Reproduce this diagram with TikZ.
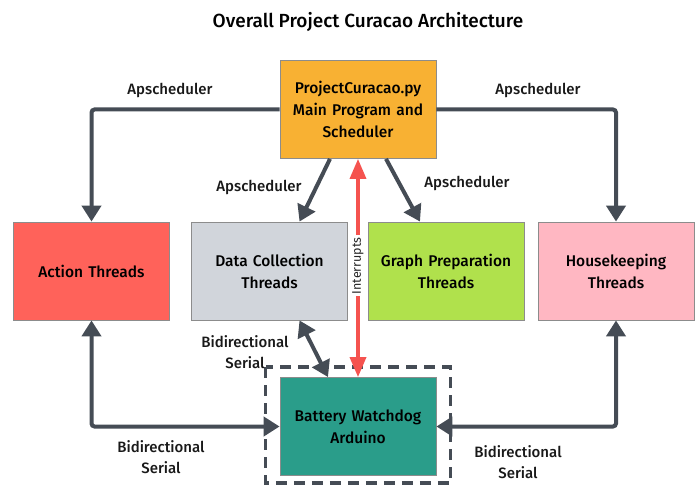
\documentclass[tikz,border=0pt]{standalone}
\usepackage{fontspec}
\setmainfont{Fira Sans}[BoldFont={Fira Sans Medium}]
\usetikzlibrary{arrows.meta,calc}
\definecolor{linegray}{HTML}{454C55}
\definecolor{actred}{HTML}{FF625A}
\definecolor{datagray}{HTML}{D1D5DB}
\definecolor{graphgreen}{HTML}{B0E14C}
\definecolor{housepink}{HTML}{FFB7C2}
\definecolor{mainorange}{HTML}{F8B133}
\definecolor{battteal}{HTML}{2A9D8A}
\definecolor{intred}{HTML}{F5534F}
\begin{document}
\begin{tikzpicture}[x=1pt,y=-1pt,
  box/.style={draw=black!45, line width=0.8pt, minimum width=156pt, minimum height=98pt,
    text width=154pt, align=center, font=\bfseries\fontsize{15.5}{22}\selectfont, inner sep=0pt},
  conn/.style={draw=linegray, line width=4pt, rounded corners=3pt},
  tip/.style={-{Triangle[width=19pt,length=16pt]}},
  tips/.style={{Triangle[width=19pt,length=16pt]}-{Triangle[width=19pt,length=16pt]}},
  lbl/.style={font=\bfseries\fontsize{15}{20.5}\selectfont, align=center, text=black!90},
  frame/.style={draw=linegray, line width=3.5pt, dash pattern=on 11pt off 7pt}]
\useasboundingbox (0,0) rectangle (700,486);
\node[font=\bfseries\fontsize{19}{22}\selectfont] (title) at (368,22) {Overall Project Curacao Architecture};
\node[box, fill=mainorange] (main) at (358,109.5) {ProjectCuracao.py\\Main Program and\\Scheduler};
\node[box, fill=actred] (action) at (91.5,271) {Action Threads};
\node[box, fill=datagray] (data) at (269.5,271) {Data Collection\\Threads};
\node[box, fill=graphgreen] (graph) at (446,271) {Graph Preparation\\Threads};
\node[box, fill=housepink] (house) at (616,271) {Housekeeping\\Threads};
\node[box, fill=battteal] (batt) at (358,426.5) {Battery Watchdog\\Arduino};
\draw[frame] ($(batt.north west)+(-14,-10)$) rectangle ($(batt.south east)+(14,7)$);
% scheduler connectors
\draw[conn, tip] (main.west) -| (action.north);
\draw[conn, tip] (main.east) -| (house.north);
\draw[conn, tip] ($(main.south)+(-28,0)$) -- ($(data.north)+(30,0)$);
\draw[conn, tip] ($(main.south)+(28,0)$) -- ($(graph.north)+(-26,0)$);
% serial connectors
\draw[conn, tips] (action.south) |- (batt.west);
\draw[conn, tips] (house.south) |- (batt.east);
\draw[conn, tips] ($(data.south)+(30,0)$) -- ($(batt.north)+(-30,0)$);
% interrupts
\draw[draw=intred, line width=3.5pt, {Triangle[width=16pt,length=20pt]}-{Triangle[width=16pt,length=20pt]}]
  (main.south) -- node[pos=0.49, fill=white, rotate=90, text=black!85, inner sep=2pt,
  font=\fontsize{12.5}{14}\selectfont] (intlbl) {Interrupts} (batt.north);
% labels
\node[lbl] (l1) at (170,90) {Apscheduler};
\node[lbl] (l2) at (538,90) {Apscheduler};
\node[lbl] (l3) at (259,187) {Apscheduler};
\node[lbl] (l4) at (467,183) {Apscheduler};
\node[lbl] (l5) at (245,352) {Bidirectional\\Serial};
\node[lbl] (l6) at (161,457) {Bidirectional\\Serial};
\node[lbl] (l7) at (518,462) {Bidirectional\\Serial};
\end{tikzpicture}
\end{document}
